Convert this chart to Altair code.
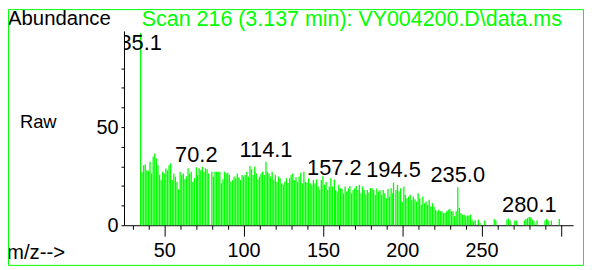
import altair as alt
import pandas as pd

# ---- spectrum data (m/z, abundance) ----
mz_low = [35.1, 36, 37, 38, 39, 40, 41, 42, 43, 44, 45, 46, 47, 48, 49, 50, 51, 52, 53, 54,
          55, 56, 57, 58, 59, 60, 61, 62, 63, 64, 65, 66, 67, 68, 69, 70.2, 71, 72, 73, 74,
          75, 76, 77, 78]
int_low = [98, 27, 30.6, 31, 28, 27.8, 32.3, 26.4, 34.9, 36.6, 34, 30.6, 25.6, 23, 27.3, 26.4, 28.9, 28, 30.6, 31.5,
           23, 26.4, 24.8, 22, 18.4, 27.3, 25.6, 26.4, 23.4, 25, 29, 26.4, 27.3, 22.2, 24, 29.6, 25.6, 29, 28, 29.8,
           27.3, 29, 28.5, 26.4]

mz_mid = [80, 81, 82, 83, 84, 85, 86, 87, 88, 89, 90, 91, 92, 93, 94, 95, 96, 97, 98, 99,
          100, 101, 102, 103, 104, 105, 106, 107, 108, 109, 110, 111, 112, 113, 114.1, 115, 116, 117, 118, 119,
          120, 121, 122, 123, 124, 125, 126, 127, 128, 129, 130, 131, 132, 133, 134, 135, 136, 137, 138, 139,
          140, 141, 142, 143, 144, 145, 146, 147, 148, 149, 150, 151, 152, 153, 154, 155, 156]
int_mid = [27.3, 24.8, 27.3, 27.3, 27.3, 27.3, 21.4, 23.4, 27.3, 26.4, 26.8, 25.6, 22.2, 23, 24.8, 24, 26.4, 24.4, 23, 25.6,
           24.8, 25.6, 27.3, 24.8, 30.2, 28.5, 25.6, 29.8, 26.4, 23.4, 24.8, 26.4, 27.3, 25.6, 32.3, 27.3, 26.4, 24.8, 27.3, 23,
           25.6, 22.2, 24.8, 24, 21.4, 20.6, 22.2, 24, 21.5, 24, 25.6, 26.4, 23, 24.4, 22.2, 24.8, 26.8, 21.4, 27.3, 22.2,
           21.7, 24, 21.4, 20.6, 23, 21.4, 23.4, 19.7, 18, 23, 25, 20.6, 22.2, 18, 19.7, 24, 19.7]

mz_high = [157.2, 158, 159, 160, 161, 162, 163, 164, 165, 166, 167, 168, 169, 170, 171, 172, 173, 174, 175, 176,
           177, 178, 179, 180, 181, 182, 183, 184, 185, 186, 187, 188, 189, 190, 191, 192, 193, 194, 194.5, 196,
           197, 198, 199, 200, 201, 202, 203, 204, 205, 206, 207, 208, 209, 210, 211, 212, 213, 214, 215, 216,
           217, 218, 219, 220, 221, 222, 223, 224, 225, 226, 227, 228, 229, 230, 231, 232, 233, 234, 235.0, 236,
           237, 238, 239, 240, 241, 242, 243, 244, 245, 246, 248, 249]
int_high = [23.3, 18, 17.2, 20.6, 18.9, 18.4, 16.3, 19.7, 17.2, 18.9, 20, 16.3, 18, 18.9, 20, 18, 20.6, 16.3, 19.7, 18,
            15.5, 18, 16.7, 18.9, 18.9, 18, 15.5, 18.9, 17.2, 18, 15.5, 18, 16.3, 13.8, 18.4, 14.6, 18.9, 16.3, 21.8, 18,
            20.6, 17.2, 18.9, 12, 19.7, 15.5, 13.8, 14.6, 15.5, 13, 14.6, 13.3, 12.1, 16.3, 13.8, 10.4, 14.6, 11.3, 12.1, 10.4,
            13, 9.6, 11.3, 9.6, 7.9, 7.1, 7.9, 7.1, 7.1, 6.2, 6.2, 7.1, 7.9, 8.3, 7.1, 7.1, 4.6, 7.1, 19.4, 8.8,
            6.2, 5.4, 5.4, 4.6, 4.9, 4.9, 5.4, 2.9, 2, 2.5, 2.9, 1.2]

mz_tail = [252, 258, 259, 266, 267, 268, 271, 272, 277, 278, 279, 280.1, 281, 282, 283, 285, 290, 291, 292, 294, 299]
int_tail = [2.4, 3.2, 2.4, 2.9, 3.4, 2.4, 2.4, 2.4, 2.5, 3.2, 3.7, 4.2, 4.1, 2.9, 2, 2.4, 2.4, 3.2, 2.4, 2.4, 3.2]

# ---- labelled peaks ----
label_mz = [35.1, 70.2, 114.1, 157.2, 194.5, 235.0, 280.1]
label_text = ["35.1", "70.2", "114.1", "157.2", "194.5", "235.0", "280.1"]
label_int = [98, 29.6, 32.3, 23.3, 21.8, 19.4, 4.2]

# ---- axis ticks ----
x_major = [50, 100, 150, 200, 250]
x_minor = [30, 40, 60, 70, 80, 90, 110, 120, 130, 140, 160, 170, 180, 190,
           210, 220, 230, 240, 260, 270, 280, 290, 300]
y_major = [0, 50]
y_minor = [10, 20, 30, 40, 60, 70, 80]

mz = mz_low + mz_mid + mz_high + mz_tail
inten = int_low + int_mid + int_high + int_tail
assert len(mz) == len(inten)

spec = pd.DataFrame({"mz": mz, "ab": inten})
labs = pd.DataFrame({"mz": label_mz, "t": label_text, "ab": label_int})

FONT = "Liberation Sans"
GREEN = "#00ff00"

xscale = alt.Scale(domain=[24.6, 307.7], nice=False, zero=False)
yscale = alt.Scale(domain=[0, 99], nice=False)

x_axis_major = alt.Axis(values=x_major, orient="bottom", tickSize=11, labelPadding=5,
                        title=None, labelOverlap=False)
x_axis_minor = alt.Axis(values=x_minor, orient="bottom", labels=False, domain=False,
                        tickSize={"condition": {"test": "datum.value === 300", "value": 11}, "value": 4},
                        title=None)
y_axis_major = alt.Axis(values=y_major, orient="left", tickSize=3, labelPadding=3,
                        title=None, labelOverlap=False)
y_axis_minor = alt.Axis(values=y_minor, orient="left", labels=False, domain=False,
                        tickSize=3, title=None)

bars = alt.Chart(spec).mark_rule(color=GREEN, strokeWidth=1.3).encode(
    x=alt.X("mz:Q", scale=xscale, axis=x_axis_major),
    y=alt.Y("ab:Q", scale=yscale, axis=y_axis_major),
    y2=alt.datum(0),
)

peak_labels = alt.Chart(labs).transform_calculate(
    ly="min(datum.ab, 87)"
).mark_text(
    font=FONT, fontSize=22, color="black", align="center", baseline="middle", dy=-12, clip=True
).encode(
    x=alt.X("mz:Q", scale=xscale, axis=x_axis_minor),
    y=alt.Y("ly:Q", scale=yscale, axis=y_axis_minor),
    text="t:N",
)


def deco(text, x, y, size, color="black"):
    return alt.Chart(pd.DataFrame({"t": [text]})).mark_text(
        font=FONT, fontSize=size, color=color, align="left", baseline="alphabetic"
    ).encode(x=alt.value(x), y=alt.value(y), text="t:N")


abundance = deco("Abundance", -117, -5.5, 20.5)
title = deco("Scan 216 (3.137 min): VY004200.D\\data.ms", 18, -5, 21.6, GREEN)
raw = deco("Raw", -105, 98.3, 18.5)
mzlab = deco("m/z-->", -118, 230, 20.5)

border = alt.Chart(pd.DataFrame({"a": [0]})).mark_rect(
    filled=False, stroke=GREEN, strokeWidth=1
).encode(
    x=alt.value(-116.5), x2=alt.value(463.5), y=alt.value(-21.5), y2=alt.value(236.5)
)

chart = alt.layer(bars, peak_labels, abundance, title, raw, mzlab, border).resolve_axis(
    x="independent", y="independent"
).properties(
    width=453, height=196,
    padding={"left": 117, "top": 22, "right": 11, "bottom": 41},
    autosize=alt.AutoSizeParams(type="none"),
).configure_view(strokeWidth=0).configure_axis(
    labelOverlap=False, labelFont=FONT, labelFontSize=20, labelColor="black",
    domainColor="black", tickColor="black", grid=False, labelFlush=False,
)

chart.save("out.html", embed_options={"renderer": "svg", "actions": False})
